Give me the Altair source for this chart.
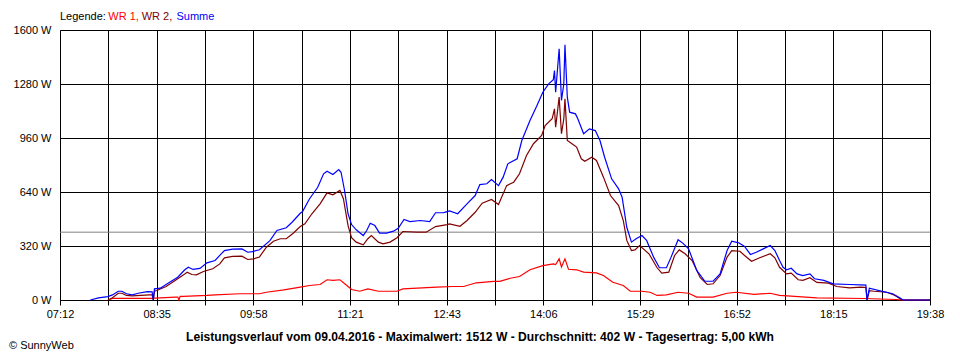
import altair as alt
import pandas as pd

# ---------------- data ----------------
wr1_times = ["07:55","07:57","08:29","08:38","08:51","08:53","08:54","08:55","08:58","09:18","09:25","09:46","10:03","10:09","10:24","10:38","10:46","10:55","11:01","11:06","11:12","11:18","11:22","11:29","11:36","11:45","12:01","12:06","12:35","12:49","12:58","13:09","13:24","13:29","13:38","13:46","13:55","14:06","14:15","14:17","14:20","14:22","14:25","14:28","14:35","14:41","14:52","14:58","15:06","15:15","15:21","15:31","15:38","15:44","15:52","16:02","16:11","16:18","16:32","16:44","16:52","17:07","17:21","17:29","17:42","18:01","18:41","19:09","19:15","19:38"]
wr1_watts = [3,10,10,13,17,17,0,22,22,27,30,37,37,46,60,76,86,92,120,116,120,86,62,52,66,52,52,66,76,80,80,102,110,110,129,139,179,204,214,210,244,196,244,182,179,165,161,145,105,86,52,52,46,27,30,46,40,17,17,40,46,33,40,27,21,13,9,3,0,0]

wr2_times = ["07:53","07:57","08:02","08:05","08:09","08:14","08:21","08:29","08:31","08:32","08:33","08:35","08:43","08:52","08:58","09:01","09:05","09:09","09:15","09:23","09:29","09:33","09:40","09:48","09:53","09:58","10:03","10:09","10:15","10:21","10:26","10:32","10:38","10:42","10:48","10:55","11:01","11:06","11:12","11:15","11:19","11:22","11:26","11:32","11:36","11:39","11:45","11:49","11:55","12:01","12:06","12:18","12:26","12:34","12:44","12:46","12:55","13:01","13:08","13:14","13:22","13:28","13:35","13:41","13:46","13:52","13:58","14:05","14:08","14:14","14:16","14:17","14:20","14:22","14:24","14:25","14:27","14:31","14:35","14:39","14:42","14:48","14:52","14:58","15:04","15:11","15:15","15:18","15:22","15:25","15:29","15:37","15:44","15:48","15:54","15:59","16:03","16:08","16:14","16:21","16:27","16:32","16:38","16:44","16:48","16:55","16:59","17:05","17:12","17:21","17:25","17:29","17:35","17:39","17:45","17:49","17:55","18:01","18:11","18:18","18:29","18:39","18:43","18:44","18:46","18:50","19:01","19:08","19:14","19:38"]
wr2_watts = [0,13,40,40,27,24,27,30,30,0,52,56,80,121,149,165,151,149,169,185,214,250,258,260,240,244,255,313,348,363,363,396,435,451,511,570,635,623,649,600,441,369,343,327,363,382,343,333,343,369,406,402,402,435,447,451,437,471,520,574,596,566,678,698,748,856,926,975,1034,1074,1133,1024,1202,985,1074,1192,945,926,906,837,822,846,827,728,619,560,471,353,293,297,323,274,191,159,165,264,297,274,234,132,92,96,145,254,293,289,264,230,250,274,250,194,155,159,120,116,132,104,100,80,72,76,74,0,55,52,46,27,0,0]

sum_times = ["07:38","07:45","07:53","07:57","08:02","08:05","08:09","08:14","08:19","08:27","08:31","08:32","08:33","08:38","08:46","08:53","08:59","09:02","09:06","09:12","09:18","09:25","09:29","09:33","09:40","09:48","09:53","09:57","10:03","10:12","10:18","10:26","10:31","10:38","10:40","10:46","10:53","10:58","11:01","11:06","11:11","11:13","11:16","11:19","11:22","11:26","11:32","11:35","11:38","11:42","11:46","11:52","11:58","12:02","12:07","12:12","12:21","12:29","12:34","12:41","12:46","12:53","13:01","13:08","13:12","13:18","13:22","13:28","13:32","13:36","13:44","13:48","13:55","14:01","14:06","14:11","14:15","14:16","14:17","14:20","14:22","14:24","14:25","14:27","14:29","14:34","14:36","14:41","14:46","14:51","14:55","14:59","15:05","15:11","15:14","15:18","15:22","15:26","15:31","15:35","15:41","15:46","15:52","15:56","16:02","16:06","16:11","16:18","16:25","16:32","16:38","16:44","16:48","16:54","16:59","17:04","17:09","17:15","17:21","17:25","17:29","17:32","17:35","17:39","17:44","17:49","17:55","17:59","18:07","18:15","18:29","18:38","18:43","18:44","18:46","18:58","19:06","19:12","19:15","19:38"]
sum_watts = [0,13,20,30,52,52,37,30,40,50,48,0,66,70,105,135,179,194,181,187,220,234,264,293,301,303,283,287,298,352,412,428,461,514,524,600,668,748,763,744,773,757,649,511,447,416,382,412,455,441,396,396,408,425,477,465,471,465,517,518,528,511,570,619,684,689,714,678,728,807,837,945,1064,1153,1231,1281,1305,1360,1231,1488,1182,1281,1512,1202,1113,1103,1074,985,1014,1004,945,846,718,659,609,431,343,363,382,353,254,191,191,254,357,337,303,175,111,111,155,293,348,339,317,270,283,303,323,293,234,194,179,188,155,145,155,126,116,96,92,90,88,0,70,50,37,13,0,0]

average_watts = 402
x_start, x_end = "07:12", "19:38"
x_labels = ["07:12","08:35","09:58","11:21","12:43","14:06","15:29","16:52","18:15","19:38"]
y_ticks = [0, 320, 640, 960, 1280, 1600]

series_names = ["WR 1", "WR 2", "Summe"]
series_colors = ["#ff0000", "#800000", "#0000ff"]

title_text = "Leistungsverlauf vom 09.04.2016 - Maximalwert: 1512 W - Durchschnitt: 402 W - Tagesertrag: 5,00 kWh"
copyright_text = "\u00a9 SunnyWeb"

FONT = "Liberation Sans"


def to_min(s):
    h, m = s.split(":")
    return int(h) * 60 + int(m)


rows = []
for name, ts, ws in zip(series_names, [wr1_times, wr2_times, sum_times], [wr1_watts, wr2_watts, sum_watts]):
    for t, w in zip(ts, ws):
        rows.append({"t": to_min(t), "w": w, "series": name})
df = pd.DataFrame(rows)

t0, t1 = to_min(x_start), to_min(x_end)
n_minor = 2 * (len(x_labels) - 1)
x_grid = [t0 + i * (t1 - t0) / n_minor for i in range(n_minor + 1)]
label_expr = "".join(
    f"abs(datum.value - {v:.4f}) < 0.5 ? '{lab}' : " for v, lab in zip(x_grid[::2], x_labels)
) + "''"

x_enc = alt.X(
    "t:Q",
    scale=alt.Scale(domain=[t0, t1], nice=False, zero=False),
    axis=alt.Axis(
        values=x_grid, labelExpr=label_expr, title=None,
        grid=True, gridColor="black", gridOpacity=1, gridWidth=1,
        tickColor="black", tickSize=5, tickWidth=1,
        domainColor="black", domainWidth=1,
        labelFont=FONT, labelFontSize=11, labelColor="black",
        labelPadding=3, labelFlush=False, labelOverlap=False,
    ),
)
y_enc = alt.Y(
    "w:Q",
    scale=alt.Scale(domain=[0, 1600], nice=False, zero=True),
    axis=alt.Axis(
        values=y_ticks, labelExpr="datum.value + ' W'", title=None,
        grid=True, gridColor="black", gridOpacity=1, gridWidth=1,
        ticks=False, domainColor="black", domainWidth=1,
        labelFont=FONT, labelFontSize=11, labelColor="black",
        labelPadding=9, labelFlush=False, labelOverlap=False,
    ),
)

avg_rule = alt.Chart(pd.DataFrame({"w": [average_watts]})).mark_rule(
    color="#808080", strokeWidth=1
).encode(y=y_enc)

lines = []
for name, color in zip(series_names, series_colors):
    lines.append(
        alt.Chart(df).transform_filter(alt.datum.series == name).mark_line(
            color=color, strokeWidth=1.2, interpolate="linear"
        ).encode(x=x_enc, y=y_enc)
    )

one = pd.DataFrame({"a": [0]})


def text_layer(txt, x, y, color="black", size=11, weight="normal", align="left", baseline="middle"):
    return alt.Chart(one).mark_text(
        text=txt, font=FONT, fontSize=size, fontWeight=weight, color=color,
        align=align, baseline=baseline
    ).encode(x=alt.value(x), y=alt.value(y))


legend_parts = [("Legende: ", "black"), ("WR 1, ", series_colors[0]), ("WR 2, ", series_colors[1]), ("Summe", series_colors[2])]
legend_x = [0, 48.3, 81.7, 116.5]
texts = [text_layer(p, x, -13.5, c) for (p, c), x in zip(legend_parts, legend_x)]
texts.append(text_layer(title_text, 420, 307, size=12.1, weight="bold", align="center"))
texts.append(text_layer(copyright_text, -51, 319, baseline="alphabetic"))

chart = alt.layer(avg_rule, *lines, *texts).properties(
    width=870, height=270,
    padding={"left": 52, "top": 22, "right": 22, "bottom": 52},
    autosize=alt.AutoSizeParams(type="none"),
    background="white",
).configure_view(stroke=None)

chart.save("out.html", embed_options={"renderer": "svg", "actions": False})
